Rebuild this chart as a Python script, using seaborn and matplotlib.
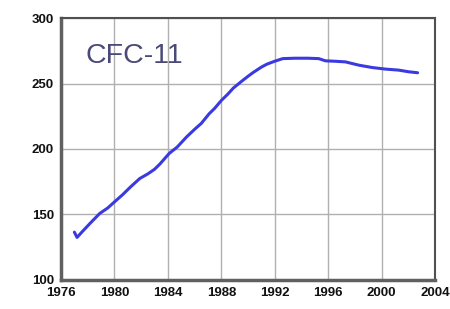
import matplotlib
matplotlib.use("Agg")
import matplotlib.pyplot as plt
import seaborn as sns
import pandas as pd

years = [1977.0, 1977.2, 1977.6, 1978.2, 1978.9, 1979.5, 1980.0, 1980.6, 1981.2, 1981.9,
         1982.5, 1983.0, 1983.4, 1984.1, 1984.7, 1985.4, 1986.0, 1986.5, 1987.1, 1987.5,
         1988.0, 1988.5, 1988.9, 1989.5, 1990.0, 1990.4, 1991.0, 1991.4, 1992.0, 1992.6,
         1993.5, 1994.5, 1995.3, 1995.8, 1996.5, 1997.3, 1998.3, 1999.3, 2000.3, 2001.3,
         2002.0, 2002.7]
cfc11 = [136.5, 132.5, 137.0, 143.5, 150.8, 155.0, 159.6, 165.0, 171.0, 177.5,
         181.0, 184.5, 188.5, 196.6, 201.5, 209.2, 215.0, 219.5, 227.0, 231.0,
         237.0, 242.0, 246.5, 251.5, 255.5, 258.5, 262.5, 264.7, 267.0, 269.0,
         269.3, 269.3, 269.0, 267.3, 267.0, 266.5, 264.0, 262.2, 261.0, 260.2,
         259.0, 258.2]
xticks = [1976, 1980, 1984, 1988, 1992, 1996, 2000, 2004]
yticks = [100, 150, 200, 250, 300]
label = "CFC-11"

df = pd.DataFrame({"year": years, "value": cfc11})

sns.set_style("whitegrid")
plt.rcParams["font.family"] = ["Liberation Sans", "DejaVu Sans"]

fig = plt.figure(figsize=(4.5, 3.09), dpi=100)
ax = fig.add_axes([0.1356, 0.0939, 0.831, 0.8478])
sns.lineplot(data=df, x="year", y="value", ax=ax, color="#3a3ae0", linewidth=2.2)

ax.set_xlim(1976, 2004)
ax.set_ylim(100, 300)
ax.set_xticks(xticks)
ax.set_yticks(yticks)
ax.set_xlabel("")
ax.set_ylabel("")
ax.grid(True, color="#b0b0b0", linewidth=1.0)
for s in ["left", "bottom"]:
    ax.spines[s].set_color("#606060")
    ax.spines[s].set_linewidth(2.5)
for s in ["top", "right"]:
    ax.spines[s].set_color("#505050")
    ax.spines[s].set_linewidth(1.5)
ax.tick_params(axis="both", which="major", length=3, width=1.2, color="#404040",
               labelsize=9.5, labelcolor="#111111", direction="out", pad=2)
for t in ax.get_xticklabels() + ax.get_yticklabels():
    t.set_fontweight("bold")
ax.text(0.065, 0.855, label, transform=ax.transAxes, fontsize=20.5,
        color="#4a4a78", ha="left", va="center")

fig.savefig("out.png", dpi=100, facecolor="white")
